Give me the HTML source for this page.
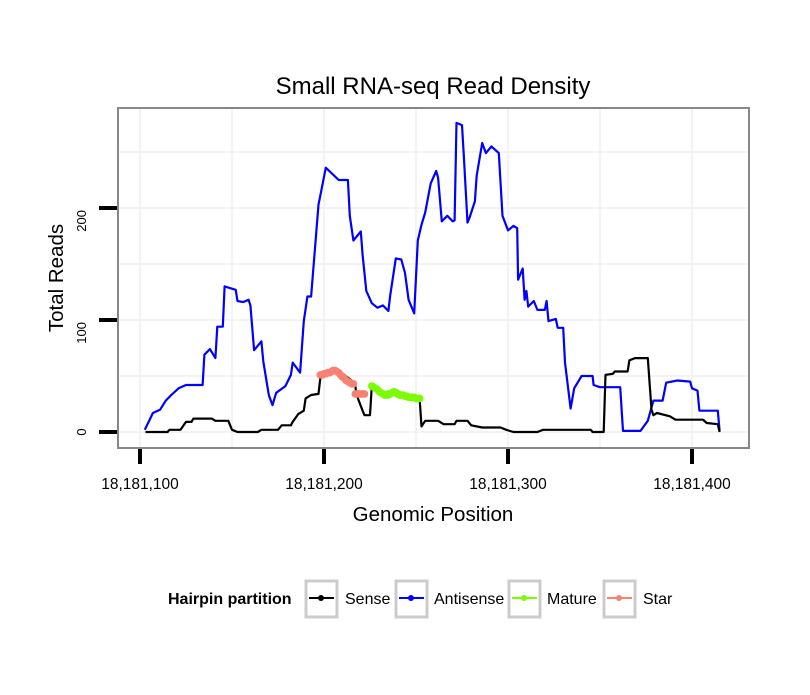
<!DOCTYPE html>
<html><head><meta charset="utf-8"><style>
body{margin:0;background:#fff;font-family:"Liberation Sans",sans-serif}
</style></head><body>
<svg id="chart" width="810" height="690" xmlns="http://www.w3.org/2000/svg" font-family="Liberation Sans, sans-serif">
<rect width="810" height="690" fill="#fff"/>
<text x="433" y="94" font-size="24" text-anchor="middle">Small RNA-seq Read Density</text>
<defs><clipPath id="pc"><rect x="118" y="108" width="631" height="340"/></clipPath></defs>
<g id="grid" clip-path="url(#pc)"></g>
<g id="series"></g>
<rect x="118" y="108" width="631" height="340" fill="none" stroke="#888" stroke-width="2"/>
<g id="axes"></g>
<text x="433" y="521" font-size="20.5" text-anchor="middle">Genomic Position</text>
<text transform="translate(63,278) rotate(-90)" font-size="20.5" text-anchor="middle">Total Reads</text>
<g>
<text x="168" y="604" font-size="16" font-weight="bold">Hairpin partition</text>
<g><rect x="306" y="581" width="31" height="36" fill="#fff" stroke="#ccc" stroke-width="3"/><line x1="309" y1="598" x2="334" y2="598" stroke="#000" stroke-width="2"/><circle cx="321" cy="598" r="3" fill="#000"/><text x="345" y="604" font-size="16">Sense</text></g>
<g><rect x="396" y="581" width="31" height="36" fill="#fff" stroke="#ccc" stroke-width="3"/><line x1="399" y1="598" x2="424" y2="598" stroke="#00f" stroke-width="2"/><circle cx="411" cy="598" r="3" fill="#00f"/><text x="434" y="604" font-size="16">Antisense</text></g>
<g><rect x="509" y="581" width="31" height="36" fill="#fff" stroke="#ccc" stroke-width="3"/><line x1="512" y1="598" x2="537" y2="598" stroke="#7cfc00" stroke-width="2"/><circle cx="524" cy="598" r="3" fill="#7cfc00"/><text x="547" y="604" font-size="16">Mature</text></g>
<g><rect x="604" y="581" width="31" height="36" fill="#fff" stroke="#ccc" stroke-width="3"/><line x1="607" y1="598" x2="632" y2="598" stroke="#fa8072" stroke-width="2"/><circle cx="619" cy="598" r="3" fill="#fa8072"/><text x="643" y="604" font-size="16">Star</text></g>
</g>
</svg>
<script>
const BASE = 18181100;
const xTicks = [18181100, 18181200, 18181300, 18181400];
const xTickLabels = ["18,181,100", "18,181,200", "18,181,300", "18,181,400"];
const yTicks = [0, 100, 200];
const antisensePos = [2.6,7,11,14,17,21,25,34,35,38,41,42,45,46,52,53,56,59,60,62,66,67,70,72,74,79,82,83,87,89,91,93,95,97,98,101,108,113,114,116,120,121,123,126,129,132,135,136,139,142,144,146,149,151,153,155,158,161,162,164,167,170,171,172,175,176,178,179,182,183,186,188,191,195,197,200,203,205,205.5,208,209,210,211,214,216,220,221,222,226,227,230,231,234,236,240,246,246.5,250,261,262.5,272,276,279,284,286,292,299,300,303,304,314,315];
const antisenseVal = [2,17,20,28,33,39,42,42,69,74,66,94,94,130,127,117,116,118,113,73,81,63,33,24,35,41,51,62,53,99,121,121,162,203,211,236,225,225,193,171,179,158,126,115,111,113,108,122,155,154,142,118,106,171,185,196,222,233,227,188,193,188,189,276,274,247,187,191,206,229,258,249,255,249,193,180,184,182,136,146,118,126,112,117,109,109,117,99,101,93,93,62,21,39,50,50,42,40,40,1,1,10,28,28,44,46,45,39,37,19,19,1];
const sensePos = [3,15,16,22,25,28,29,39,41,48,50,53,64,66,75,77,82,83,86,89,90,93,97,98,106,111,115,117,117.5,121,122,125,126,131,135,140,144,152,153,155,162,165,171,172,178,180,186,196,199,203,216,219,245,246,252,253,257,258,265,266,269,276,278,279,281,288,291,306,308,314,315];
const senseVal = [0,0,2,2,9,9,12,12,10,10,2,0,0,2,2,6,6,9,16,19,30,33,34,48,55,51,46,42,34,19,15,15,41,35,31,37,32,29,5,10,10,7,7,10,10,6,4,4,2,0,0,2,2,0,0,51,52,54,54,64,66,66,20,15,17,14,11,11,8,7,0];
const starPos = [98,99,100,101,102,103,104,105,106,107,108,109,110,111,112,113,114,115,116,117,118,119,120,121,122];
const starVal = [51,51,52,52,53,53,54,55,55,54,53,51,49,48,46,45,44,43,43,34,34,34,34,34,34];
const maturePos = [126,127,128,129,130,131,132,133,134,135,136,137,138,139,140,141,142,143,144,145,146,147,148,149,150,151,152];
const matureVal = [41,40,39,38,36,35,34,33,33,34,34,35,36,35,34,33,33,33,32,32,31,31,31,31,30,30,30];

const NS = "http://www.w3.org/2000/svg";
const xScale = p => 140 + (p - 18181100) * 1.84;
const xo = o => xScale(BASE + o);
const yScale = v => 432 - v * 1.12;
function mk(tag, attrs, parent){const e=document.createElementNS(NS,tag);for(const k in attrs)e.setAttribute(k,attrs[k]);parent.appendChild(e);return e;}
const grid=document.getElementById('grid'), series=document.getElementById('series'), axes=document.getElementById('axes');
[50,150,250,0,100,200].forEach(v=>{const l=mk('line',{x1:118,x2:749,y1:yScale(v),y2:yScale(v),stroke:'#f3f3f3','stroke-width':2},grid);

});
[18181150,18181250,18181350,18181100,18181200,18181300,18181400].forEach(p=>{const l=mk('line',{x1:xScale(p),x2:xScale(p),y1:108,y2:448,stroke:'#f3f3f3','stroke-width':2},grid);

});
function line(pos,val,color,name){
  const d=pos.map((p,i)=>(i?'L':'M')+xo(p).toFixed(1)+','+yScale(val[i]).toFixed(1)).join('');
  const e=mk('path',{d:d,fill:'none',stroke:color,'stroke-width':2.2,'stroke-linejoin':'round'},series);
  
  
}
line(antisensePos,antisenseVal,'#0000ff','antisense-line');
line(sensePos,senseVal,'#000000','sense-line');
function dots(pos,val,color,name){
  pos.forEach((p,i)=>{const c=mk('circle',{cx:xo(p),cy:yScale(val[i]),r:3.8,fill:color},series);
  
  });
}
dots(starPos,starVal,'#fa8072','star-point');
dots(maturePos,matureVal,'#7cfc00','mature-point');
yTicks.forEach(v=>{
  const t=mk('line',{x1:99,x2:117,y1:yScale(v),y2:yScale(v),stroke:'#000','stroke-width':4},axes);
  
  
  const tx=mk('text',{x:0,y:0,'font-size':13,'text-anchor':v===0?'middle':'end',transform:`translate(86,${yScale(v)+(v===0?0:2)}) rotate(-90)`},axes);
  tx.textContent=String(v);
  
  
});
xTicks.forEach((p,i)=>{
  const t=mk('line',{x1:xScale(p),x2:xScale(p),y1:449,y2:464,stroke:'#000','stroke-width':4},axes);
  
  
  const tx=mk('text',{x:xScale(p),y:489,'font-size':15.5,'text-anchor':'middle'},axes);
  tx.textContent=xTickLabels[i];
  
  
});
</script>
</body></html>
